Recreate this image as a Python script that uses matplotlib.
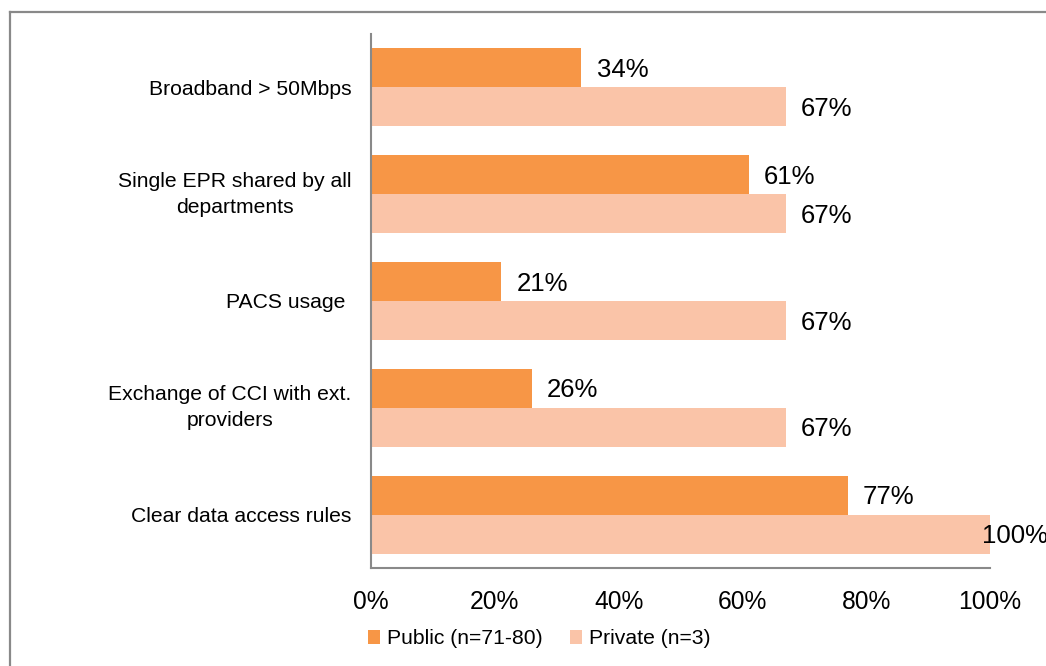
import matplotlib
matplotlib.use("Agg")
import matplotlib.pyplot as plt
from matplotlib.lines import Line2D
from matplotlib.patches import Patch
import numpy as np

plt.rcParams['font.family'] = ['Liberation Sans', 'DejaVu Sans']

categories = ["Broadband > 50Mbps", "Single EPR shared by all\ndepartments", "PACS usage ",
              "Exchange of CCI with ext.\nproviders", "Clear data access rules"]
public = [34, 61, 21, 26, 77]
private = [67, 67, 67, 67, 100]
series_labels = ["Public (n=71-80)", "Private (n=3)"]
xticks = [0, 20, 40, 60, 80, 100]
xtick_labels = ["0%", "20%", "40%", "60%", "80%", "100%"]

c_pub = "#F79646"
c_priv = "#FAC4A8"
gray = "#898989"

W, H = 1046, 666
fig = plt.figure(figsize=(W / 100, H / 100), dpi=100)
ax = fig.add_axes([371 / W, 1 - 568 / H, (990 - 371) / W, (568 - 34) / H])

y = np.arange(len(categories))
h = 0.365
ax.barh(y - h / 2, public, height=h, color=c_pub, label=series_labels[0])
ax.barh(y + h / 2, private, height=h, color=c_priv, label=series_labels[1])

for yi, v in zip(y, public):
    ax.annotate(f"{v}%", xy=(v, yi - h / 2), xytext=(11, -1.5), textcoords="offset points",
                ha="left", va="center", fontsize=18.5, color="black")
for yi, v in zip(y, private):
    off = 11 if v < 95 else -6
    ax.annotate(f"{v}%", xy=(v, yi + h / 2), xytext=(off, -1.5), textcoords="offset points",
                ha="left", va="center", fontsize=18.5, color="black")

ax.set_xlim(0, 100)
ax.set_ylim(len(categories) - 0.5, -0.5)
ax.set_yticks(y)
ax.set_yticklabels(categories, fontsize=15.2, ha="right", multialignment="center",
                   linespacing=1.45)
for lab in ax.get_yticklabels():
    if "\n" in lab.get_text():
        lab.set_va("center")
ax.set_xticks(xticks)
ax.set_xticklabels(xtick_labels, fontsize=17.7)
ax.tick_params(axis="y", length=0, pad=14)
ax.tick_params(axis="x", length=0, pad=15.5)
for s in ["top", "right"]:
    ax.spines[s].set_visible(False)
for s in ["left", "bottom"]:
    ax.spines[s].set_color(gray)
    ax.spines[s].set_linewidth(1.5)

# outer frame
fig.add_artist(Line2D([9.5 / W, 9.5 / W], [0, 1 - 11.5 / H], transform=fig.transFigure,
                      color=gray, lw=1.6))
fig.add_artist(Line2D([9.5 / W, 1], [1 - 11.5 / H, 1 - 11.5 / H], transform=fig.transFigure,
                      color=gray, lw=1.6))

handles = [Patch(facecolor=c_pub), Patch(facecolor=c_priv)]
fig.legend(handles, series_labels, loc="center", bbox_to_anchor=(539 / W, 1 - 639 / H),
           ncol=2, frameon=False, fontsize=15.2, handlelength=0.6, handleheight=0.6,
           handletextpad=0.3, columnspacing=1.3)

fig.savefig("out.png", dpi=100)
